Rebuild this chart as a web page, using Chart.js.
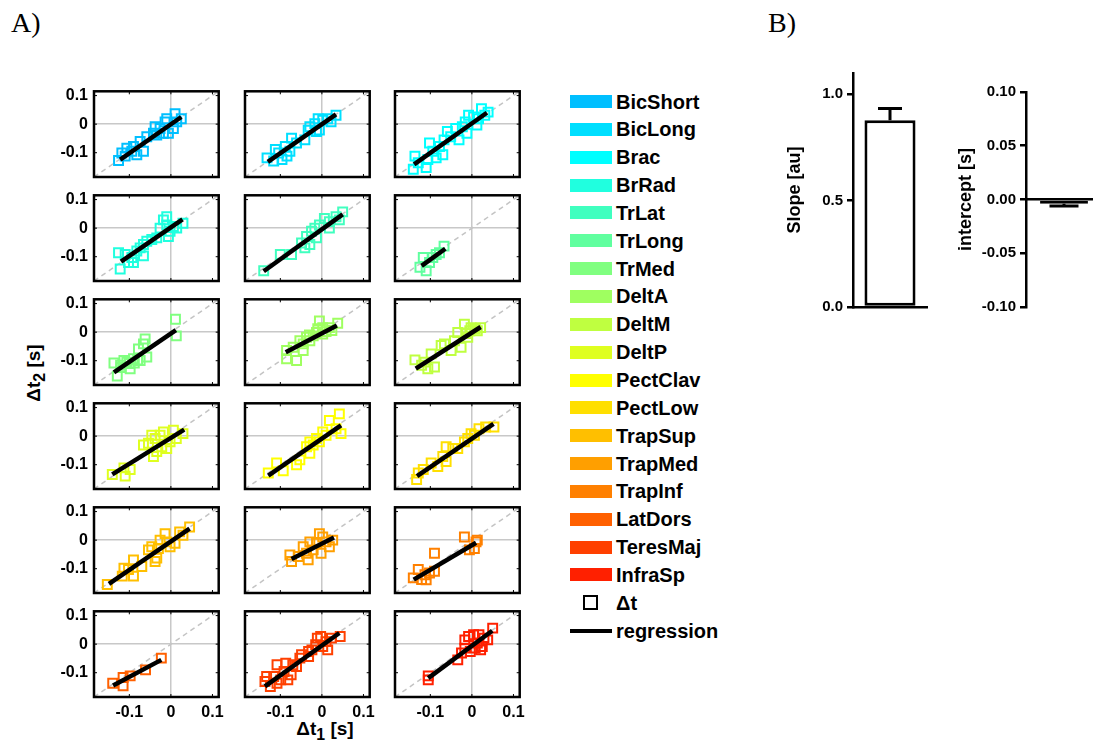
<!DOCTYPE html>
<html>
<head>
<meta charset="utf-8">
<script src="https://cdn.jsdelivr.net/npm/chart.js@4.4.1/dist/chart.umd.min.js"></script>
<style>
  body { margin: 0; width: 1093px; height: 744px; overflow: hidden; background: #fff; position: relative;
         font-family: "Liberation Sans", Arial, sans-serif; color: #000; }
  canvas, .abs { position: absolute; }
  .fig-label { font-family: "Liberation Serif", "Times New Roman", serif; font-size: 28px; line-height: 28px; }
  .axis-title { font-weight: bold; font-size: 19px; white-space: nowrap; transform: translate(-50%, -50%); }
  .leg-row { position: absolute; left: 570px; height: 24px; display: flex; align-items: center;
             font-weight: bold; font-size: 20px; line-height: 24px; white-space: nowrap; }
  .sw { display: inline-block; width: 42px; height: 13px; margin-right: 4px; }
</style>
</head>
<body>
<div class="abs fig-label" style="left:11px; top:9px;">A)</div>
<div class="abs fig-label" style="left:768px; top:9px;">B)</div>
<div class="abs axis-title" style="left:36px; top:373px; transform: translate(-50%, -50%) rotate(-90deg);">Δt<sub>2</sub> [s]</div>
<div class="abs axis-title" style="left:325px; top:731px;">Δt<sub>1</sub> [s]</div>

<script>
const muscles = ["BicShort", "BicLong", "Brac", "BrRad", "TrLat", "TrLong", "TrMed", "DeltA", "DeltM",
  "DeltP", "PectClav", "PectLow", "TrapSup", "TrapMed", "TrapInf", "LatDors", "TeresMaj", "InfraSp"];

const colors = ["#00bfff", "#00dfff", "#00ffff", "#20ffdf", "#40ffbf", "#60ff9f", "#80ff80", "#9fff60", "#bfff40",
  "#dfff20", "#ffff00", "#ffdf00", "#ffbf00", "#ff9f00", "#ff8000", "#ff6000", "#ff4000", "#ff2000"];

const axisLimits = [-0.185, 0.115];
const tickValues = [-0.1, 0, 0.1];

// Δt1 per muscle (x values)
const dt1 = [
  [-0.126,-0.110,-0.118,-0.106,-0.094,-0.082,-0.074,-0.066,-0.058,-0.042,-0.038,-0.026,-0.014,-0.010,-0.006,0.006,0.014,0.010,0.025,-0.018,-0.034,-0.090],
  [-0.132,-0.116,-0.112,-0.096,-0.084,-0.088,-0.077,-0.073,-0.061,-0.041,-0.033,-0.029,-0.013,-0.017,-0.006,0.002,0.014,0.022,0.034,-0.009,-0.104],
  [-0.141,-0.137,-0.129,-0.110,-0.106,-0.102,-0.094,-0.078,-0.070,-0.067,-0.059,-0.051,-0.039,-0.031,-0.023,-0.012,-0.008,0.004,0.012,0.023,0.031,0.039,0.016,-0.016,-0.086],
  [-0.126,-0.122,-0.110,-0.102,-0.094,-0.082,-0.074,-0.066,-0.058,-0.046,-0.034,-0.018,-0.010,-0.006,-0.002,0.006,0.014,0.029,-0.010,-0.026,-0.090,-0.066],
  [-0.140,-0.100,-0.073,-0.049,-0.041,-0.037,-0.025,-0.017,-0.013,-0.006,0.006,0.018,0.034,0.050,0.042,-0.029,0.018],
  [-0.125,-0.117,-0.102,-0.094,-0.078,-0.067,-0.086,-0.110],
  [0.011,0.013,-0.137,-0.129,-0.062,-0.066,-0.078,-0.058,-0.074,-0.106,-0.113,-0.098,-0.121,-0.090,-0.100,-0.120,-0.088,-0.080],
  [-0.085,-0.085,-0.061,-0.045,-0.069,-0.037,-0.029,-0.006,0.002,0.038,0.018,-0.013,-0.021,0.002,-0.045,-0.053,-0.030,0.010,0.024,-0.010],
  [-0.137,-0.113,-0.090,-0.098,-0.074,-0.066,-0.042,-0.034,-0.018,-0.002,0.013,0.021,-0.010,-0.026,-0.050,-0.106,-0.121,-0.005,0.008,-0.015],
  [-0.141,-0.110,-0.098,-0.113,-0.066,-0.054,-0.042,-0.034,-0.026,-0.018,-0.002,0.013,0.029,0.006,-0.010,-0.038,-0.046,-0.022],
  [-0.129,-0.093,-0.109,-0.061,-0.053,-0.029,-0.021,-0.013,0.002,0.018,0.042,0.046,0.034,-0.006,0.010,-0.029,-0.037],
  [-0.133,-0.129,-0.117,-0.098,-0.082,-0.062,-0.070,-0.062,-0.046,-0.034,-0.010,-0.002,0.006,0.017,0.033,0.053,-0.018],
  [-0.153,-0.117,-0.113,-0.102,-0.090,-0.090,-0.070,-0.054,-0.046,-0.034,-0.038,-0.030,-0.014,-0.010,-0.002,0.010,0.021,0.045,0.029,-0.026],
  [-0.073,-0.077,-0.057,-0.033,-0.037,-0.021,-0.013,-0.006,0.002,0.010,0.026,0.018,-0.002,-0.045,-0.029],
  [-0.141,-0.129,-0.121,-0.113,-0.102,-0.090,-0.090,-0.018,-0.006,0.006,0.010,0.013,-0.110],
  [-0.140,-0.115,-0.115,-0.098,-0.061,-0.023],
  [-0.137,-0.124,-0.116,-0.108,-0.099,-0.108,-0.087,-0.091,-0.074,-0.070,-0.053,-0.049,-0.032,-0.024,-0.015,-0.011,-0.003,0.010,0.014,0.023,0.044,0.002,-0.032,-0.061,-0.133,-0.082],
  [-0.105,-0.105,-0.034,-0.025,-0.017,-0.008,0.004,0.013,0.021,0.029,0.038,0.050,-0.004,0.008,-0.017,0.017,0.025]
];

// Δt2 per muscle (y values)
const dt2 = [
  [-0.127,-0.112,-0.101,-0.084,-0.095,-0.107,-0.061,-0.095,-0.044,-0.032,-0.009,-0.015,0.008,0.019,-0.032,-0.015,0.008,0.037,0.019,-0.032,-0.038,-0.078],
  [-0.118,-0.129,-0.089,-0.124,-0.112,-0.078,-0.095,-0.049,-0.066,-0.055,-0.021,-0.009,-0.026,0.002,-0.021,0.014,0.019,0.008,0.031,0.019,-0.101],
  [-0.158,-0.112,-0.135,-0.152,-0.124,-0.066,-0.095,-0.078,-0.107,-0.055,-0.026,-0.044,-0.015,-0.055,-0.009,-0.032,0.031,0.025,-0.003,0.054,0.031,0.042,0.019,0.008,-0.118],
  [-0.086,-0.143,-0.092,-0.120,-0.103,-0.080,-0.069,-0.097,-0.046,-0.040,-0.034,0.029,0.011,-0.029,-0.011,0.006,0.000,0.017,0.040,0.000,-0.120,-0.057],
  [-0.149,-0.092,-0.092,-0.052,-0.069,-0.029,-0.011,0.000,-0.034,0.011,0.034,0.023,0.040,0.057,0.029,-0.057,0.000],
  [-0.137,-0.103,-0.120,-0.103,-0.086,-0.063,-0.092,-0.149],
  [0.045,-0.013,-0.108,-0.154,-0.024,-0.041,-0.059,-0.087,-0.099,-0.105,-0.099,-0.128,-0.116,-0.093,-0.110,-0.124,-0.108,-0.098],
  [-0.064,-0.093,-0.099,-0.064,-0.053,-0.018,-0.030,0.039,0.016,0.031,0.016,-0.001,-0.013,-0.007,-0.041,-0.030,-0.010,0.002,0.006,0.012],
  [-0.097,-0.105,-0.122,-0.076,-0.047,-0.041,-0.030,-0.001,0.028,0.016,0.005,0.016,-0.018,-0.053,-0.064,-0.128,-0.116,0.005,0.012,-0.005],
  [-0.134,-0.140,-0.117,-0.111,-0.031,-0.025,-0.071,-0.054,0.003,0.015,-0.020,-0.008,0.009,0.021,-0.043,-0.008,0.003,-0.037],
  [-0.129,-0.121,-0.094,-0.100,-0.083,-0.060,-0.031,-0.008,0.015,0.055,0.078,0.009,0.026,-0.020,0.003,-0.020,-0.037],
  [-0.152,-0.129,-0.117,-0.094,-0.106,-0.089,-0.071,-0.037,-0.043,-0.043,-0.008,0.009,0.003,0.026,0.032,0.032,-0.020],
  [-0.155,-0.126,-0.098,-0.103,-0.126,-0.069,-0.092,-0.034,-0.023,-0.063,-0.075,-0.029,0.023,-0.006,-0.023,-0.011,0.029,0.046,0.017,0.000],
  [-0.075,-0.052,-0.057,-0.069,-0.046,-0.034,-0.011,0.023,0.011,-0.006,0.000,-0.023,-0.046,-0.023,-0.006],
  [-0.132,-0.103,-0.138,-0.121,-0.115,-0.109,-0.046,0.011,-0.034,-0.029,-0.006,0.000,-0.139],
  [-0.137,-0.146,-0.117,-0.111,-0.090,-0.049],
  [-0.131,-0.148,-0.113,-0.137,-0.125,-0.072,-0.067,-0.096,-0.107,-0.072,-0.049,-0.037,-0.026,-0.020,-0.002,0.021,0.027,0.009,-0.020,0.021,0.027,-0.008,-0.043,-0.078,-0.113,-0.125],
  [-0.111,-0.125,-0.055,-0.031,-0.014,0.027,0.033,0.004,-0.020,0.021,0.015,0.056,-0.026,-0.014,0.015,0.033,-0.008]
];

// regression line end points (Δt1, Δt2)
const regX = [[-0.122,0.025],[-0.130,0.034],[-0.139,0.036],[-0.120,0.028],[-0.140,0.050],[-0.121,-0.064],
  [-0.137,0.012],[-0.087,0.036],[-0.135,0.021],[-0.141,0.032],[-0.129,0.046],[-0.132,0.052],
  [-0.149,0.045],[-0.073,0.029],[-0.140,0.010],[-0.139,-0.023],[-0.137,0.042],[-0.105,0.049]];
const regY = [[-0.124,0.025],[-0.132,0.034],[-0.141,0.040],[-0.117,0.031],[-0.151,0.048],[-0.132,-0.072],
  [-0.141,0.007],[-0.070,0.023],[-0.128,0.018],[-0.134,0.023],[-0.138,0.038],[-0.140,0.043],
  [-0.153,0.040],[-0.066,0.009],[-0.138,-0.009],[-0.145,-0.055],[-0.148,0.039],[-0.119,0.047]];

// panel B
const slopeMean = [0.878];
const slopeSd = [0.055];
const slopeTicks = [0, 0.5, 1.0];
const interceptMean = [-0.004];
const interceptSd = [0.002];
const interceptTicks = [-0.1, -0.05, 0, 0.05, 0.1];

const tickFont = { family: "Liberation Sans", size: 15, weight: "bold" };
const panelTickFont = { family: "Liberation Sans", size: 16, weight: "bold" };

// grid layout for panel A
const boxLeft = [94, 245, 395];
const boxTop = [89, 193, 297, 401, 505, 609];
const boxW = 127, boxH = 88;
const padL = 60, padR = 6, padT = 6, padB = 28;

// black frame with small inward ticks, like the matlab axes box
const panelFrame = {
  id: "panelFrame",
  afterDraw(chart) {
    const { ctx, chartArea: a, scales: { x, y } } = chart;
    ctx.save();
    ctx.strokeStyle = "#000";
    ctx.lineWidth = 2.5;
    ctx.strokeRect(a.left, a.top, a.width, a.height);
    ctx.lineWidth = 1;
    ctx.beginPath();
    tickValues.forEach((v) => {
      const px = x.getPixelForValue(v);
      const py = y.getPixelForValue(v);
      ctx.moveTo(px, a.bottom); ctx.lineTo(px, a.bottom - 3);
      ctx.moveTo(px, a.top); ctx.lineTo(px, a.top + 3);
      ctx.moveTo(a.left, py); ctx.lineTo(a.left + 3, py);
      ctx.moveTo(a.right, py); ctx.lineTo(a.right - 3, py);
    });
    ctx.stroke();
    ctx.restore();
  },
};

const zeroGrid = (c) => (c.tick && c.tick.value === 0 ? "#c8c8c8" : "rgba(0,0,0,0)");
const fmt1 = (v) => (v === 0 ? "0" : v.toFixed(1));

// fixed axis size, and no extra room for labels sticking out
function fixAxis(s, size) {
  if (s.isHorizontal()) s.height = size; else s.width = size;
  s.paddingTop = 0; s.paddingBottom = 0; s.paddingLeft = 0; s.paddingRight = 0;
}

muscles.forEach((name, i) => {
  const row = Math.floor(i / 3);
  const col = i % 3;
  const canvas = document.createElement("canvas");
  canvas.width = padL + boxW + padR;
  canvas.height = padT + boxH + padB;
  canvas.style.left = boxLeft[col] - padL + "px";
  canvas.style.top = boxTop[row] - padT + "px";
  document.body.appendChild(canvas);

  new Chart(canvas, {
    type: "scatter",
    data: {
      datasets: [
        {
          label: "regression",
          data: regX[i].map((x, k) => ({ x, y: regY[i][k] })),
          showLine: true,
          borderColor: "#000",
          borderWidth: 4.5,
          pointRadius: 0,
          order: 0,
        },
        {
          label: name,
          data: dt1[i].map((x, k) => ({ x, y: dt2[i][k] })),
          pointStyle: "rect",
          pointRadius: 6.3,
          pointBorderWidth: 2,
          borderColor: colors[i],
          backgroundColor: "rgba(0,0,0,0)",
          order: 1,
        },
        {
          label: "identity",
          data: axisLimits.map((v) => ({ x: v, y: v })),
          showLine: true,
          borderColor: "#c4c4c4",
          borderWidth: 1.5,
          borderDash: [5, 4],
          pointRadius: 0,
          order: 2,
        },
      ],
    },
    options: {
      responsive: false,
      animation: false,
      devicePixelRatio: 1,
      layout: { padding: { left: 0, top: padT, right: padR, bottom: 0 } },
      plugins: { legend: { display: false }, tooltip: { enabled: false } },
      scales: {
        x: {
          type: "linear",
          min: axisLimits[0],
          max: axisLimits[1],
          afterBuildTicks: (s) => { s.ticks = tickValues.map((value) => ({ value })); },
          afterFit: (s) => fixAxis(s, padB),
          grid: { color: zeroGrid, lineWidth: 1.5, drawTicks: false },
          border: { display: false },
          ticks: { display: row === 5, padding: 6, font: panelTickFont, color: "#000", maxRotation: 0, autoSkip: false, callback: fmt1 },
        },
        y: {
          type: "linear",
          min: axisLimits[0],
          max: axisLimits[1],
          afterBuildTicks: (s) => { s.ticks = tickValues.map((value) => ({ value })); },
          afterFit: (s) => fixAxis(s, padL),
          grid: { color: zeroGrid, lineWidth: 1.5, drawTicks: false },
          border: { display: false },
          ticks: { display: col === 0, padding: 6, font: panelTickFont, color: "#000", autoSkip: false, callback: fmt1 },
        },
      },
    },
    plugins: [panelFrame],
  });
});

// legend for panel A
const legendTop = 101.5;
const legendStep = 27.85;
const legendItems = muscles.map((name, i) => ({ name, color: colors[i] }));
legendItems.push({ name: "Δt", marker: "square" }, { name: "regression", marker: "line" });
legendItems.forEach((item, i) => {
  const row = document.createElement("div");
  row.className = "leg-row";
  row.style.top = legendTop + i * legendStep - 12 + "px";
  let sym;
  if (item.marker === "square") {
    sym = '<span style="display:inline-block;width:42px;margin-right:4px;"><span style="display:block;width:11px;height:11px;border:2px solid #000;margin-left:13px;"></span></span>';
  } else if (item.marker === "line") {
    sym = '<span style="display:inline-block;width:42px;height:4px;background:#000;margin-right:4px;"></span>';
  } else {
    sym = `<span class="sw" style="background:${item.color}"></span>`;
  }
  row.innerHTML = sym + "<span>" + item.name + "</span>";
  document.body.appendChild(row);
});

// panel B: bars with one-sided error bars
const errorBars = {
  id: "errorBars",
  afterDatasetsDraw(chart, args, opts) {
    const { ctx, scales: { y } } = chart;
    const meta = chart.getDatasetMeta(0);
    ctx.save();
    ctx.strokeStyle = "#000";
    ctx.lineWidth = 3;
    meta.data.forEach((bar, k) => {
      const mean = opts.mean[k];
      const end = mean + Math.sign(mean) * opts.sd[k];
      const y0 = y.getPixelForValue(mean);
      const y1 = y.getPixelForValue(end);
      ctx.beginPath();
      ctx.moveTo(bar.x, y0);
      ctx.lineTo(bar.x, y1);
      ctx.moveTo(bar.x - opts.cap / 2, y1);
      ctx.lineTo(bar.x + opts.cap / 2, y1);
      ctx.stroke();
    });
    ctx.restore();
  },
};

function barChart(opt) {
  const canvas = document.createElement("canvas");
  canvas.width = opt.w;
  canvas.height = opt.h;
  canvas.style.left = opt.left + "px";
  canvas.style.top = opt.top + "px";
  document.body.appendChild(canvas);
  return new Chart(canvas, {
    type: "bar",
    data: {
      labels: [""],
      datasets: [{
        data: opt.mean,
        backgroundColor: "#fff",
        borderColor: "#000",
        borderWidth: 3,
        borderSkipped: false,
        barPercentage: opt.barPct,
        categoryPercentage: 1,
      }],
    },
    options: {
      responsive: false,
      animation: false,
      devicePixelRatio: 1,
      layout: { padding: opt.padding },
      plugins: {
        legend: { display: false },
        tooltip: { enabled: false },
        errorBars: { mean: opt.mean, sd: opt.sd, cap: opt.cap },
      },
      scales: {
        x: {
          position: opt.xPos,
          afterFit: (s) => { s.height = opt.xHeight; },
          grid: { display: false },
          border: { display: true, color: "#000", width: 2.5 },
          ticks: { display: false },
        },
        y: {
          min: opt.ticks[0],
          max: opt.max,
          afterBuildTicks: (s) => { s.ticks = opt.ticks.map((value) => ({ value })); },
          afterFit: (s) => { s.width = opt.yWidth; },
          grid: { drawOnChartArea: false, drawTicks: true, tickLength: 6, color: "#000", lineWidth: 2.5 },
          border: { display: true, color: "#000", width: 2.5 },
          ticks: { padding: 4, font: tickFont, color: "#000", autoSkip: false, callback: (v) => v.toFixed(opt.decimals) },
          title: {
            display: true,
            text: opt.title,
            color: "#000",
            font: { family: "Liberation Sans", size: 18, weight: "bold" },
            padding: { top: opt.titlePad, bottom: 0 },
          },
        },
      },
    },
    plugins: [errorBars],
  });
}

barChart({
  left: 770, top: 60, w: 170, h: 260,
  mean: slopeMean, sd: slopeSd, cap: 24, barPct: 0.69,
  ticks: slopeTicks, max: 1.1, decimals: 1,
  yWidth: 83, xHeight: 13, xPos: "bottom",
  padding: { left: 0, top: 12, right: 13, bottom: 0 },
  title: "Slope [au]", titlePad: 14,
});

barChart({
  left: 940, top: 60, w: 170, h: 260,
  mean: interceptMean, sd: interceptSd, cap: 29, barPct: 0.63,
  ticks: interceptTicks, max: 0.1, decimals: 2,
  yWidth: 86, xHeight: 0, xPos: { y: 0 },
  padding: { left: 0, top: 32, right: 8, bottom: 12 },
  title: "intercept [s]", titlePad: 15,
});
</script>
</body>
</html>
